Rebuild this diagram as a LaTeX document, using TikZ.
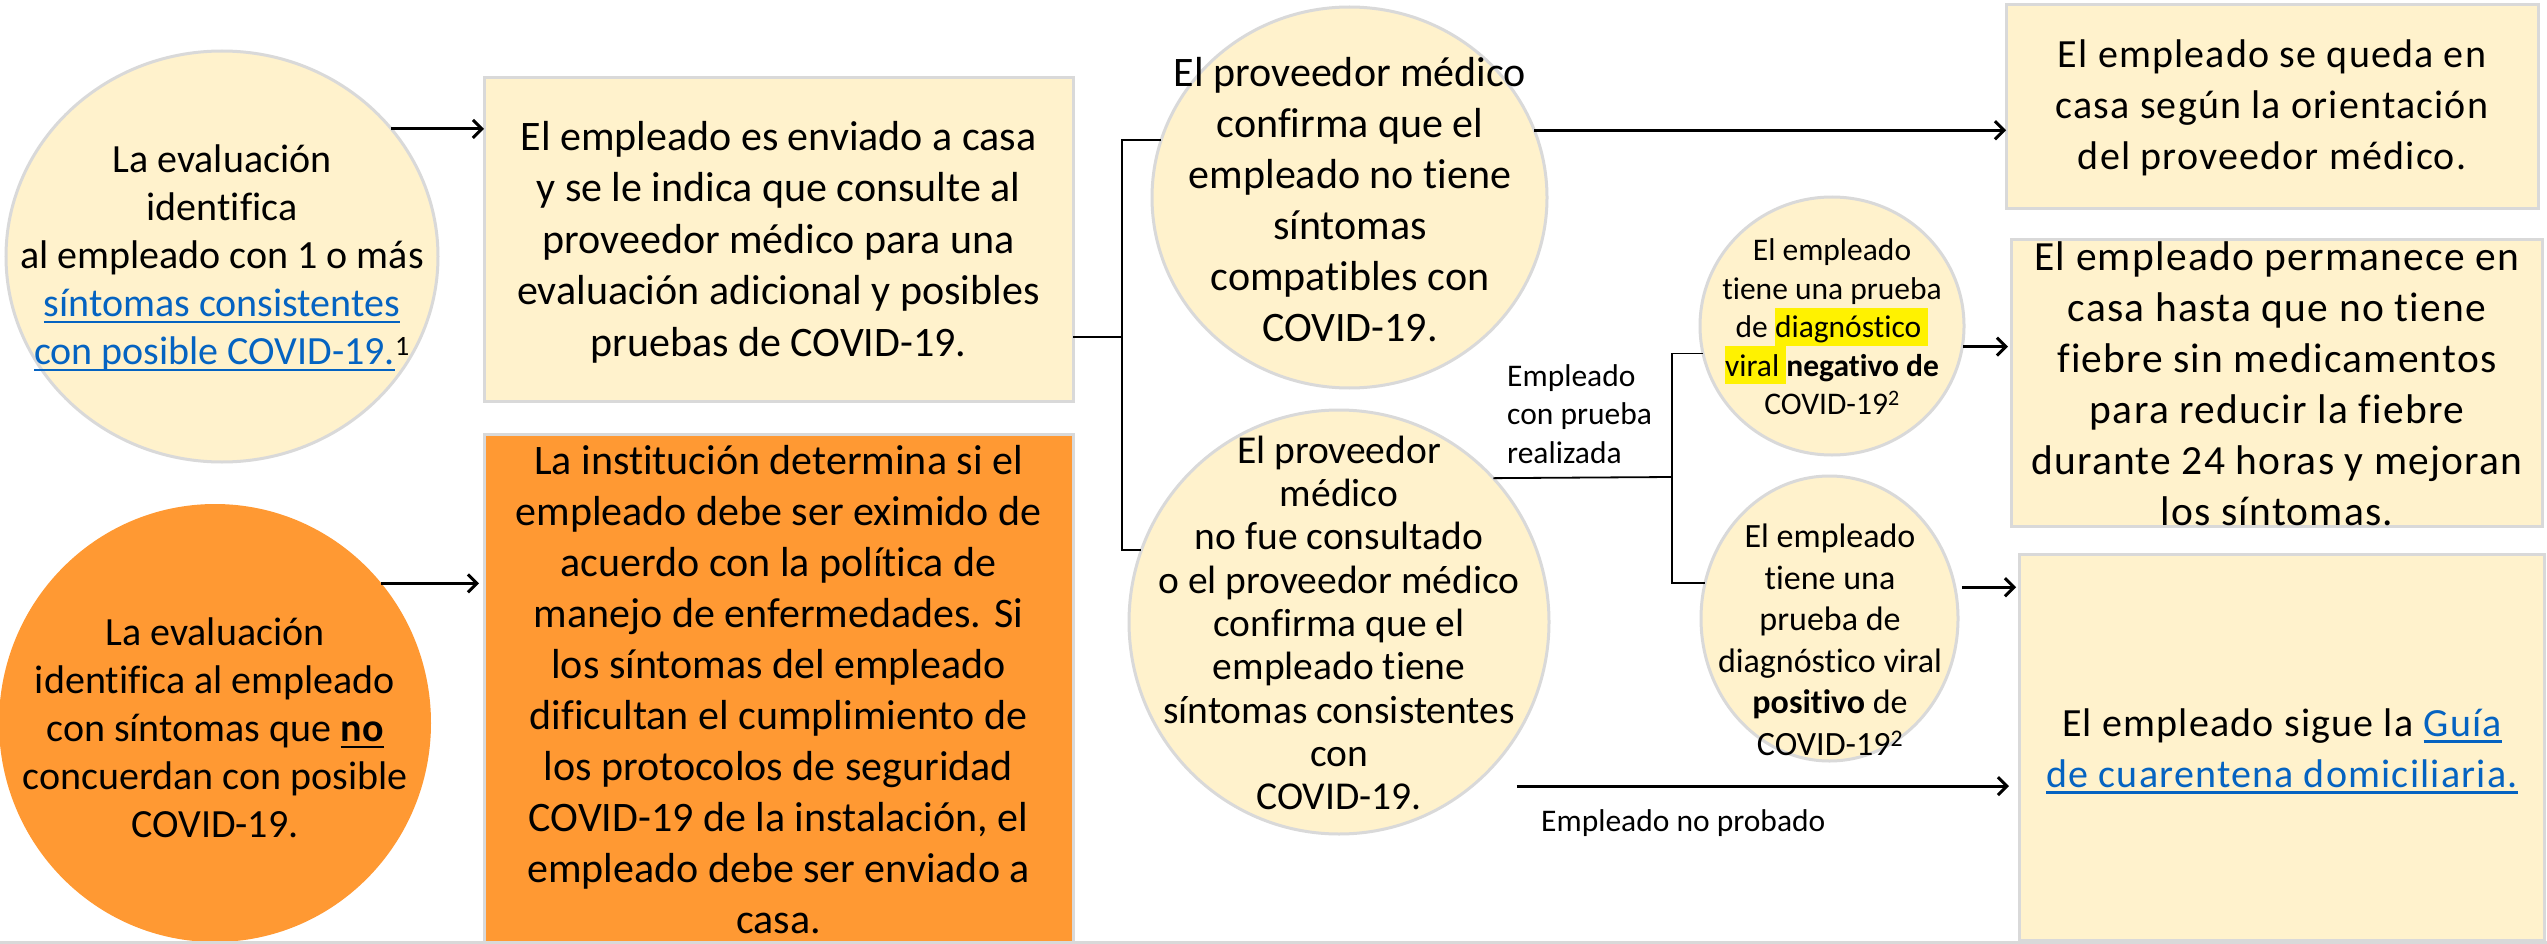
\documentclass[tikz,border=0pt]{standalone}
\usepackage{fontspec}
\setmainfont{Carlito}[Ligatures=NoCommon]
\newfontfamily\widef{Carlito}[LetterSpace=3,Ligatures=NoCommon]
\usetikzlibrary{shapes.geometric,arrows.meta}
\definecolor{fillY}{HTML}{FFF2CC}
\definecolor{bord}{HTML}{D9D9D9}
\definecolor{orng}{HTML}{FF9933}
\definecolor{lnk}{HTML}{0563C1}
\newcommand\ulin[1]{\setbox0\hbox{#1}\rlap{\rule[-0.16em]{\wd0}{0.06em}}\box0}
\newcommand\hlt[1]{{\setlength{\fboxsep}{0pt}\colorbox{yellow}{\rule[-0.25em]{0pt}{1.2em}#1}}}
\begin{document}
\begin{tikzpicture}[x=1pt,y=-1pt,
  ybox/.style={rectangle, fill=fillY, draw=bord, line width=3pt, inner sep=0pt, outer sep=0pt},
  obox/.style={rectangle, fill=orng, draw=bord, line width=3pt, inner sep=0pt, outer sep=0pt},
  yell/.style={ellipse, fill=fillY, draw=bord, line width=3pt, inner sep=0pt, outer sep=0pt},
  oell/.style={ellipse, fill=orng, inner sep=0pt, outer sep=0pt},
  txt/.style={align=center, inner sep=0pt},
  conn/.style={draw=black, line width=1.8pt},
  arr/.style={draw=black, line width=3pt, -{Straight Barb[length=9pt,width=18pt]}},
]
\fill[white] (0,0) rectangle (2547,944);
\useasboundingbox (0,0) rectangle (2547,944);

% shapes
\node[yell, minimum width=432pt, minimum height=411pt] (e1) at (222,256.5) {};
\node[oell, minimum width=432pt, minimum height=438pt] (o1) at (215,723) {};
\node[ybox, minimum width=589pt, minimum height=323pt] (b1) at (778.5,239.5) {};
\node[obox, minimum width=589pt, minimum height=520pt] (ob) at (778.5,694) {};
\node[yell, minimum width=395pt, minimum height=381pt] (e3) at (1349.5,197.5) {};
\node[yell, minimum width=420pt, minimum height=424pt] (e4) at (1339,622) {};
\node[yell, minimum width=264pt, minimum height=258pt] (e5) at (1832,326) {};
\node[yell, minimum width=257pt, minimum height=285pt] (e6) at (1829.5,618.5) {};
\node[ybox, minimum width=532pt, minimum height=203pt] (b4) at (2272,106.5) {};
\node[ybox, minimum width=531pt, minimum height=287pt] (b5) at (2276.5,382.5) {};
\node[ybox, minimum width=525pt, minimum height=386pt] (b6) at (2281.5,747) {};

% texts
\node[txt, font=\fontsize{40}{48}\selectfont] (t1) at (222,258) {La evaluación\\identifica\\al empleado con 1 o más\\\textcolor{lnk}{\ulin{síntomas consistentes}}\\\textcolor{lnk}{\ulin{con posible COVID-19.}}\textsuperscript{1}};
\node[txt, font=\fontsize{42}{51.5}\selectfont] (t2) at (778.5,242) {El empleado es enviado a casa\\y se le indica que consulte al\\proveedor médico para una\\evaluación adicional y posibles\\pruebas de COVID-19.};
\node[txt, font=\fontsize{40}{48}\selectfont] (to1) at (215,728) {La evaluación\\identifica al empleado\\con síntomas que \textbf{\ulin{no}}\\concuerdan con posible\\COVID-19.};
\node[txt, font=\fontsize{42}{51}\selectfont] (tob) at (778.5,690) {La institución determina si el\\empleado debe ser eximido de\\acuerdo con la política de\\manejo de enfermedades. Si\\los síntomas del empleado\\dificultan el cumplimiento de\\los protocolos de seguridad\\COVID-19 de la instalación, el\\empleado debe ser enviado a\\casa.};
\node[txt, font=\fontsize{42}{51}\selectfont] (t3) at (1350,200) {El proveedor médico\\confirma que el\\empleado no tiene\\síntomas\\compatibles con\\COVID-19.};
\node[txt, font=\fontsize{39.5}{43.3}\selectfont] (t4) at (1339,623) {El proveedor\\médico\\no fue consultado\\o el proveedor médico\\confirma que el\\empleado tiene\\síntomas consistentes\\con\\COVID-19.};
\node[txt, font=\fontsize{31.5}{38.5}\selectfont] (t5) at (1832,327) {El empleado\\tiene una prueba\\de \hlt{diagnóstico }\\\hlt{viral }\textbf{negativo de}\\COVID-19\textsuperscript{2}};
\node[txt, font=\fontsize{34}{41.5}\selectfont] (t6) at (1830,640) {El empleado\\tiene una\\prueba de\\diagnóstico viral\\\textbf{positivo} de\\COVID-19\textsuperscript{2}};
\node[txt, align=left, anchor=west, font=\fontsize{31.5}{38.5}\selectfont] (l1) at (1507,414) {Empleado\\con prueba\\realizada};
\node[txt, anchor=west, font=\fontsize{31.5}{38}\selectfont] (l2) at (1541,823) {Empleado no probado};
\node[txt, font=\widef\fontsize{40}{51}\selectfont] (t7) at (2272,108) {El empleado se queda en\\casa según la orientación\\del proveedor médico.};
\node[txt, font=\widef\fontsize{41.5}{51}\selectfont] (t8) at (2277,384) {El empleado permanece en\\casa hasta que no tiene\\fiebre sin medicamentos\\para reducir la fiebre\\durante 24 horas y mejoran\\los síntomas.};
\node[txt, font=\widef\fontsize{40}{51}\selectfont] (t9) at (2282,751) {El empleado sigue la \textcolor{lnk}{\ulin{Guía}}\\\textcolor{lnk}{\ulin{de cuarentena domiciliaria.}}};

% connectors
\coordinate (j1) at (1122,337);
\coordinate (j2) at (1672,477);
\draw[conn] (b1.east |- j1) -- (j1);
\draw[conn] (e3.163.6) -| (j1) |- (e4.160.8);
\draw[conn] (e4.43.5) -- (j2);
\draw[conn] (e5.192.7) -| (j2) |- (e6.164.5);

% arrows
\draw[arr] (e1.37.1) -- (e1.37.1 -| b1.west);
\draw[arr, shorten >=5pt] (o1.40.9) -- (o1.40.9 -| ob.west);
\draw[arr] (e3.20.4) -- (e3.20.4 -| b4.west);
\draw[arr, shorten <=1pt, shorten >=3pt] (e5.-9.1) -- (e5.-9.1 -| b5.west);
\draw[arr, shorten <=7pt, shorten >=3pt] (e6.14.1) -- (e6.14.1 -| b6.west);
\draw[arr, shorten <=45pt, shorten >=10pt] (e4.-51.4) -- (e4.-51.4 -| b6.west);

\fill[bord] (0,940.5) rectangle (2547,944);
\end{tikzpicture}
\end{document}
